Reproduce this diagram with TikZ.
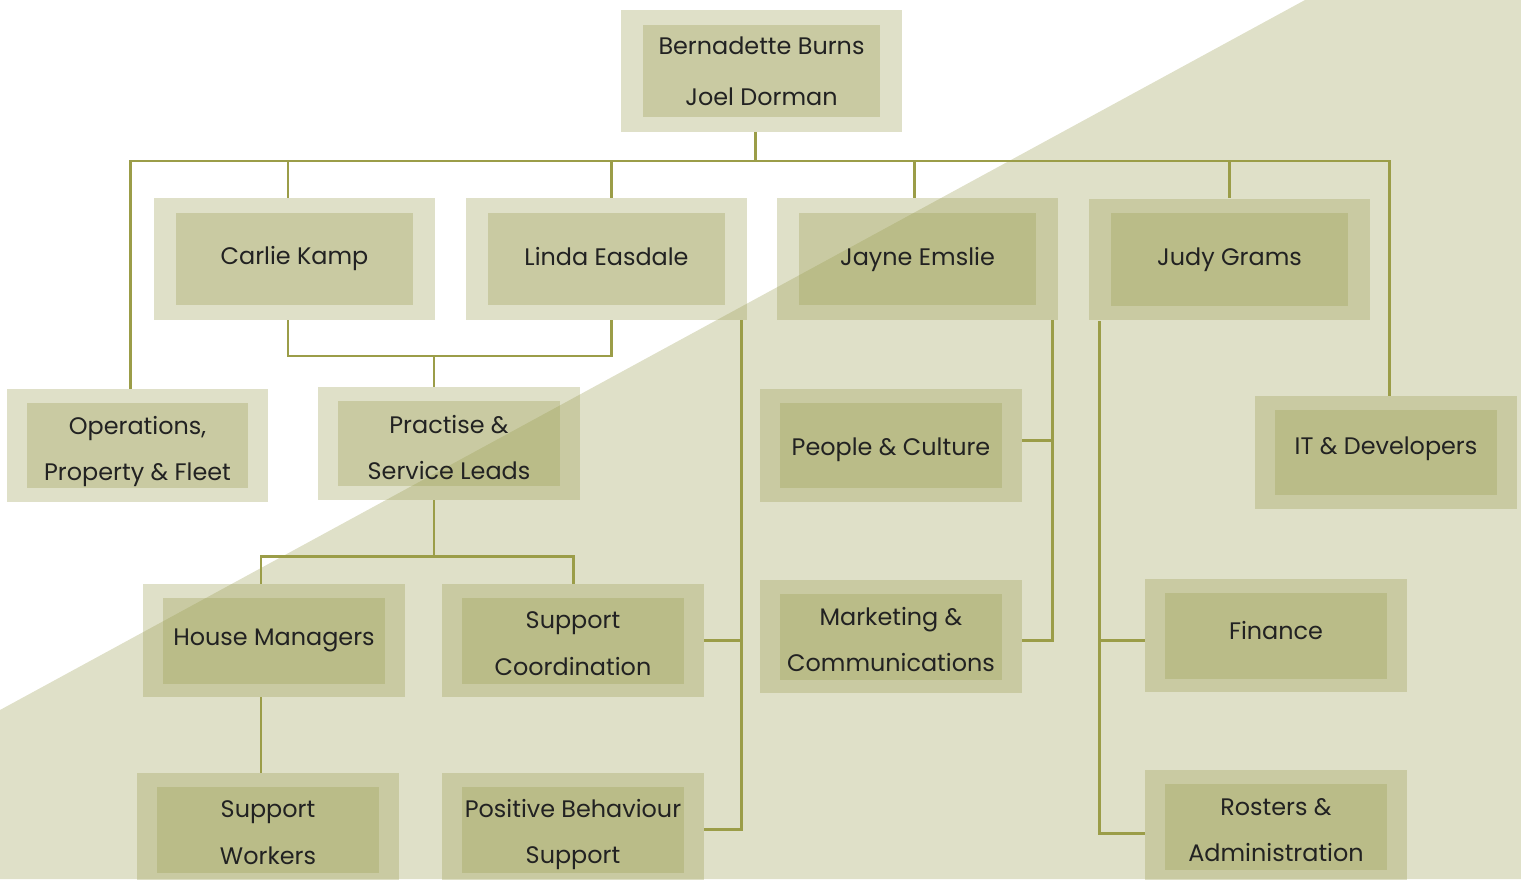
\documentclass[tikz,border=0pt]{standalone}
\usepackage{fontspec}
\setmainfont{Poppins}
\usepackage{tikz}
\usetikzlibrary{positioning, calc}
\definecolor{oliveshade}{RGB}{152, 155, 78}
\definecolor{oliveline}{RGB}{155, 157, 72}
\definecolor{inkgrey}{RGB}{34, 34, 34}

\tikzset{
  bgshade/.style={fill=oliveshade, fill opacity=0.31},
  leadouter/.style={rectangle, fill=oliveshade, fill opacity=0.31, inner sep=0pt, minimum width=5.62cm, minimum height=2.44cm},
  leadinner/.style={rectangle, fill=oliveshade, fill opacity=0.31, inner sep=0pt, minimum width=4.76cm, minimum height=1.86cm},
  teamouter/.style={rectangle, fill=oliveshade, fill opacity=0.31, inner sep=0pt, minimum width=5.24cm, minimum height=2.26cm},
  teaminner/.style={rectangle, fill=oliveshade, fill opacity=0.31, inner sep=0pt, minimum width=4.44cm, minimum height=1.72cm},
  boxtext/.style={text=inkgrey, inner sep=0pt, align=center, font=\fontsize{13.6}{26.6}\selectfont},
  orgline/.style={draw=oliveline, line width=1.7pt}
}

\begin{document}
\begin{tikzpicture}[x=0.02cm, y=-0.02cm]
  \useasboundingbox (0,0) rectangle (1521,879);

  % Diagonal backdrop
  \fill[bgshade] (0,710) -- (1305,0) -- (1521,0) -- (1521,879) -- (0,879) -- cycle;

  % Directors
  \node[leadouter] (top) at (761.5,71) {};
  \node[leadinner] (top-b) at (top) {};
  \node[boxtext, font=\fontsize{13.6}{28.9}\selectfont] (top-t) at (top) {Bernadette Burns\\Joel Dorman};

  % Managers
  \node[leadouter] (carlie) at (294.5,259) {};
  \node[leadinner] (carlie-b) at (carlie) {};
  \node[boxtext] (carlie-t) at (carlie) {Carlie Kamp};
  \node[leadouter] (linda) at (606.5,259) {};
  \node[leadinner] (linda-b) at (linda) {};
  \node[boxtext, yshift=0.04cm] (linda-t) at (linda) {Linda Easdale};
  \node[leadouter] (jayne) at (917.5,259) {};
  \node[leadinner] (jayne-b) at (jayne) {};
  \node[boxtext] (jayne-t) at (jayne) {Jayne Emslie};
  \node[leadouter] (judy) at (1229.5,259.5) {};
  \node[leadinner] (judy-b) at (judy) {};
  \node[boxtext] (judy-t) at (judy) {Judy Grams};

  % Teams - second row
  \node[teamouter] (ops) at (137.5,445.5) {};
  \node[teaminner] (ops-b) at (ops) {};
  \node[boxtext, yshift=-0.12cm] (ops-t) at (ops) {Operations,\\Property \& Fleet};
  \node[teamouter] (practise) at (449,443.5) {};
  \node[teaminner] (practise-b) at (practise) {};
  \node[boxtext, yshift=-0.08cm] (practise-t) at (practise) {Practise \&\\Service Leads};
  \node[teamouter] (people) at (891,445.5) {};
  \node[teaminner] (people-b) at (people) {};
  \node[boxtext, yshift=-0.08cm] (people-t) at (people) {People \& Culture};
  \node[teamouter] (itdev) at (1386,452.5) {};
  \node[teaminner] (itdev-b) at (itdev) {};
  \node[boxtext, yshift=0.08cm] (itdev-t) at (itdev) {IT \& Developers};

  % Teams - third row
  \node[teamouter] (house) at (274,640.5) {};
  \node[teaminner] (house-b) at (house) {};
  \node[boxtext] (house-t) at (house) {House Managers};
  \node[teamouter] (suppcoord) at (573,640.5) {};
  \node[teaminner] (suppcoord-b) at (suppcoord) {};
  \node[boxtext, yshift=-0.06cm] (suppcoord-t) at (suppcoord) {Support\\Coordination};
  \node[teamouter] (marketing) at (891,636.5) {};
  \node[teaminner] (marketing-b) at (marketing) {};
  \node[boxtext, yshift=-0.06cm] (marketing-t) at (marketing) {Marketing \&\\Communications};
  \node[teamouter] (finance) at (1276,635.5) {};
  \node[teaminner] (finance-b) at (finance) {};
  \node[boxtext, yshift=0.1cm] (finance-t) at (finance) {Finance};

  % Teams - bottom row
  \node[teamouter] (workers) at (268,829.5) {};
  \node[teaminner] (workers-b) at (workers) {};
  \node[boxtext, yshift=-0.07cm] (workers-t) at (workers) {Support\\Workers};
  \node[teamouter] (pbs) at (573,829.5) {};
  \node[teaminner] (pbs-b) at (pbs) {};
  \node[boxtext, yshift=-0.1cm] (pbs-t) at (pbs) {Positive Behaviour\\Support};
  \node[teamouter] (rosters) at (1276,826.5) {};
  \node[teaminner] (rosters-b) at (rosters) {};
  \node[boxtext, yshift=-0.07cm] (rosters-t) at (rosters) {Rosters \&\\Administration};

  % Junction points
  \coordinate (bus) at (755,161);
  \coordinate (plj) at (434,356);
  \coordinate (hmj) at (434,556);
  \coordinate (hmx) at (261,556);
  \coordinate (lindabus) at (741,320);
  \coordinate (jaynebus) at (1052,320);
  \coordinate (judybus) at (1099,321);

  % Top bus
  \draw[orgline] (top.south -| bus) -- (bus);
  \draw[orgline] ([xshift=-0.14cm]ops.north) |- (bus) -| ([xshift=0.06cm]itdev.north);
  \foreach \who/\dx in {carlie/-0.13, linda/0.09, jayne/-0.07, judy/0}
    \draw[orgline] ([xshift=\dx cm]\who.north) -- ([xshift=\dx cm]\who.north |- bus);

  % Practise & Service Leads branch
  \draw[orgline] ([xshift=-0.13cm]carlie.south) |- (plj) -| ([xshift=0.09cm]linda.south);
  \draw[orgline] (plj) -- (plj |- practise.north);
  \draw[orgline] (hmj |- practise.south) -- (hmj);
  \draw[orgline] (hmx |- house.north) -- (hmx) -- (hmj) -| (suppcoord.north);
  \draw[orgline] (hmx |- house.south) -- (hmx |- workers.north);

  % Linda side line
  \draw[orgline] (lindabus) |- (pbs.east);
  \draw[orgline] (suppcoord.east) -- (suppcoord.east -| lindabus);

  % Jayne side line
  \draw[orgline] (jaynebus) |- ([yshift=-0.07cm]marketing.east);
  \draw[orgline] ([yshift=0.11cm]people.east) -- ([yshift=0.11cm]people.east -| jaynebus);

  % Judy side line
  \draw[orgline] (judybus) |- ([yshift=-0.13cm]rosters.west);
  \draw[orgline] ([yshift=-0.09cm]finance.west) -- ([yshift=-0.09cm]finance.west -| judybus);
\end{tikzpicture}
\end{document}
